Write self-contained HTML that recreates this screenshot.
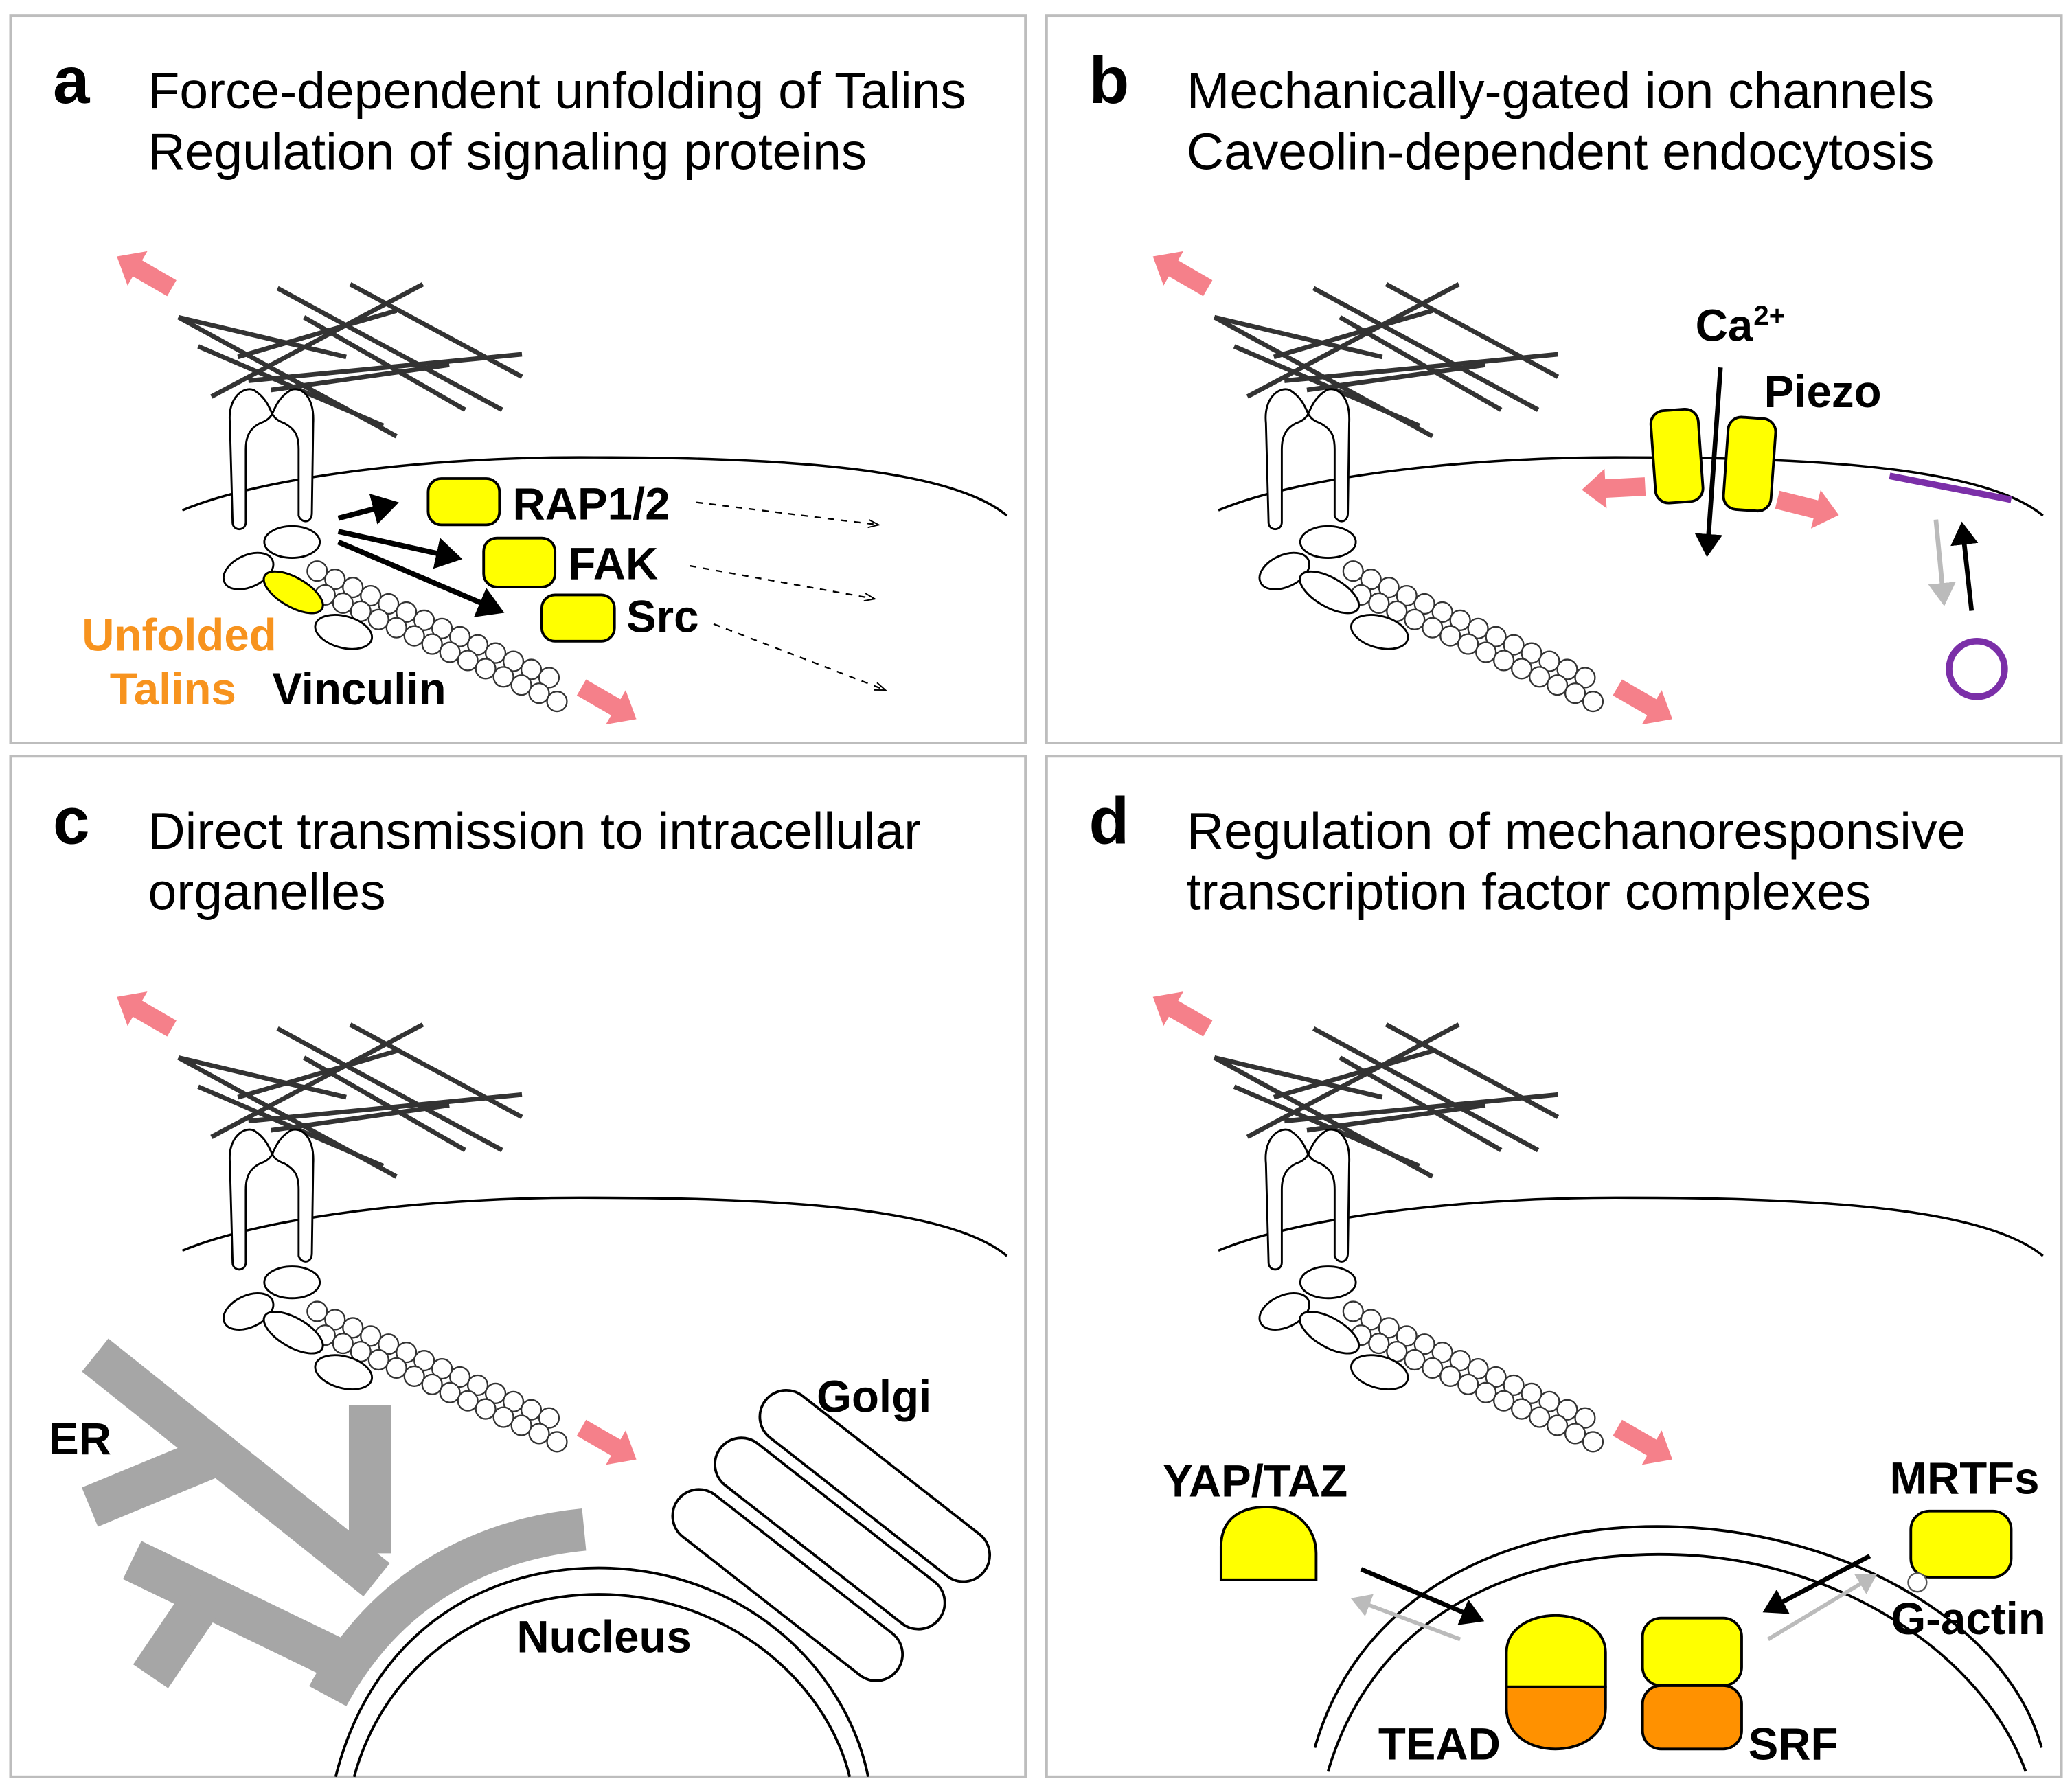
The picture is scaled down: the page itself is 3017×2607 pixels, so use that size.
<!DOCTYPE html>
<html><head><meta charset="utf-8"><style>
html,body{margin:0;padding:0;background:#fff}
svg{display:block}
text{font-family:"Liberation Sans",Arial,sans-serif}
.t{font-size:39px;fill:#000}
.L{font-size:50px;font-weight:bold}
.b{font-size:34px;font-weight:bold}
</style></head><body>
<svg width="3017" height="2607" viewBox="0 0 1568 1354" preserveAspectRatio="none" xmlns="http://www.w3.org/2000/svg">
<defs>
<marker id="ah" markerWidth="6" markerHeight="6" refX="4" refY="3" orient="auto" markerUnits="strokeWidth"><path d="M0,0 L5,3 L0,6 z" fill="#000"/></marker>
<marker id="ahg" markerWidth="6" markerHeight="6" refX="4" refY="3" orient="auto" markerUnits="strokeWidth"><path d="M0,0 L5,3 L0,6 z" fill="#bbb"/></marker>
<marker id="ahs" markerWidth="10" markerHeight="8" refX="8" refY="4" orient="auto" markerUnits="userSpaceOnUse"><path d="M0,1 L8,4 L0,7" fill="none" stroke="#000" stroke-width="1"/></marker>
<g id="pk"><path d="M0,-7 L30,-7 L30,-15 L48,0 L30,15 L30,7 L0,7 z" fill="#f5808a"/></g>
<g id="cell">
<use href="#pk" transform="translate(130,218) rotate(-150)"/>
<use href="#pk" transform="translate(440,520) rotate(30)"/>
<g stroke="#333" stroke-width="3.5">
<line x1="135" y1="240" x2="300" y2="330"/>
<line x1="210" y1="218" x2="380" y2="310"/>
<line x1="160" y1="300" x2="320" y2="215"/>
<line x1="188" y1="288" x2="395" y2="268"/>
<line x1="150" y1="262" x2="290" y2="322"/>
<line x1="265" y1="215" x2="395" y2="285"/>
<line x1="230" y1="240" x2="352" y2="310"/>
<line x1="205" y1="295" x2="340" y2="276"/>
<line x1="180" y1="270" x2="300" y2="235"/>
<line x1="135" y1="240" x2="262" y2="270"/>
</g>
<path d="M138,386 C200,360 330,345 450,346 C600,346 720,355 762,390" fill="none" stroke="#000" stroke-width="1.8"/>
<path d="M176,395 L174,320 C172,300 185,292 192,295 C200,300 203,306 206,313 C209,306 212,300 220,295 C228,292 238,300 237,320 L236,388 C236,396 228,396 226,390 L226,340 C226,330 224,325 215,320 C209,318 207,315 206,313 C205,315 203,318 197,320 C189,324 186,330 186,340 L186,395 C186,402 176,402 176,395 z" fill="#fff" stroke="#000" stroke-width="1.5"/>
<g fill="#fff" stroke="#333" stroke-width="1.2">
<g id="ch">
<circle cx="240" cy="432" r="7.5"/><circle cx="253.5" cy="438.2" r="7.5"/><circle cx="267" cy="444.4" r="7.5"/><circle cx="280.5" cy="450.6" r="7.5"/><circle cx="294" cy="456.8" r="7.5"/><circle cx="307.5" cy="463" r="7.5"/><circle cx="321" cy="469.2" r="7.5"/><circle cx="334.5" cy="475.4" r="7.5"/><circle cx="348" cy="481.6" r="7.5"/><circle cx="361.5" cy="487.8" r="7.5"/><circle cx="375" cy="494" r="7.5"/><circle cx="388.5" cy="500.2" r="7.5"/><circle cx="402" cy="506.4" r="7.5"/><circle cx="415.5" cy="512.6" r="7.5"/>
</g>
<use href="#ch" transform="translate(6,18)"/>
</g>
<g fill="#fff" stroke="#000" stroke-width="1.5">
<ellipse cx="221" cy="410" rx="21" ry="12"/>
<ellipse cx="188" cy="432" rx="20" ry="12" transform="rotate(-25 188 432)"/>
<ellipse cx="260" cy="478" rx="22" ry="12" transform="rotate(15 260 478)"/>
</g>
<ellipse cx="222" cy="448" rx="25" ry="11" transform="rotate(30 222 448)" fill="#fff" stroke="#000" stroke-width="1.5"/>
</g>
</defs>

<g fill="#fff" stroke="#bdbdbd" stroke-width="2">
<rect x="8" y="12" width="768" height="550"/>
<rect x="792" y="12" width="768" height="550"/>
<rect x="8" y="572" width="768" height="772"/>
<rect x="792" y="572" width="768" height="772"/>
</g>

<use href="#cell"/>
<use href="#cell" transform="translate(784,0)"/>
<use href="#cell" transform="translate(0,560)"/>
<use href="#cell" transform="translate(784,560)"/>

<!-- Panel a -->
<text x="40" y="78" class="L">a</text>
<text x="112" y="82" class="t">Force-dependent unfolding of Talins</text>
<text x="112" y="128" class="t">Regulation of signaling proteins</text>
<ellipse cx="222" cy="448" rx="25" ry="11" transform="rotate(30 222 448)" fill="#ffff00" stroke="#000" stroke-width="1.5"/>
<g fill="#ffff00" stroke="#000" stroke-width="2">
<rect x="324" y="362" width="54" height="35" rx="10"/>
<rect x="366" y="407" width="54" height="37" rx="10"/>
<rect x="410" y="450" width="55" height="35" rx="10"/>
</g>
<g stroke="#000" stroke-width="4" marker-end="url(#ah)">
<line x1="256" y1="392" x2="298" y2="381"/>
<line x1="256" y1="402" x2="346" y2="422"/>
<line x1="256" y1="410" x2="378" y2="462"/>
</g>
<g stroke="#000" stroke-width="1.2" stroke-dasharray="5,5" marker-end="url(#ahs)">
<line x1="527" y1="380" x2="665" y2="397"/>
<line x1="522" y1="428" x2="662" y2="453"/>
<line x1="540" y1="472" x2="670" y2="522"/>
</g>
<text x="388" y="393" class="b">RAP1/2</text>
<text x="430" y="438" class="b">FAK</text>
<text x="474" y="478" class="b">Src</text>
<text x="62" y="492" class="b" fill="#f7931e">Unfolded</text>
<text x="83" y="533" class="b" fill="#f7931e">Talins</text>
<text x="206" y="533" class="b">Vinculin</text>

<!-- Panel b -->
<text x="824" y="78" class="L">b</text>
<text x="898" y="82" class="t">Mechanically-gated ion channels</text>
<text x="898" y="128" class="t">Caveolin-dependent endocytosis</text>
<rect x="1251" y="310" width="36" height="70" rx="10" fill="#ffff00" stroke="#000" stroke-width="2" transform="rotate(-4 1269 345)"/>
<rect x="1306" y="316" width="36" height="70" rx="10" fill="#ffff00" stroke="#000" stroke-width="2" transform="rotate(4 1324 351)"/>
<line x1="1302" y1="278" x2="1292" y2="418" stroke="#000" stroke-width="3.5" marker-end="url(#ah)"/>
<use href="#pk" transform="translate(1245,368) rotate(177)"/>
<use href="#pk" transform="translate(1345,378) rotate(14)"/>
<text x="1283" y="258" class="b">Ca</text><text x="1327" y="246" font-size="21" font-weight="bold">2+</text>
<text x="1335" y="308" class="b">Piezo</text>
<line x1="1430" y1="360" x2="1522" y2="378" stroke="#7b2fa8" stroke-width="5"/>
<circle cx="1496" cy="506" r="21" fill="none" stroke="#7b2fa8" stroke-width="5"/>
<line x1="1492" y1="462" x2="1485" y2="398" stroke="#000" stroke-width="3.5" marker-end="url(#ah)"/>
<line x1="1465" y1="393" x2="1471" y2="455" stroke="#bbb" stroke-width="3.5" marker-end="url(#ahg)"/>

<!-- Panel c -->
<text x="40" y="638" class="L">c</text>
<text x="112" y="642" class="t">Direct transmission to intracellular</text>
<text x="112" y="688" class="t">organelles</text>
<g stroke="#a6a6a6" stroke-width="32" fill="none" stroke-linecap="butt">
<line x1="72" y1="1025" x2="285" y2="1195"/>
<line x1="280" y1="1063" x2="280" y2="1175"/>
<line x1="68" y1="1140" x2="165" y2="1100"/>
<path d="M442,1157 C360,1165 290,1205 248,1283"/>
<line x1="100" y1="1180" x2="255" y2="1255"/>
<line x1="152" y1="1212" x2="114" y2="1268"/>
</g>
<g fill="none" stroke="#000" stroke-width="2">
<path d="M254,1344 C280,1240 360,1186 453,1186 C560,1186 640,1260 657,1344"/>
<path d="M268,1344 C292,1256 370,1206 453,1206 C548,1206 625,1270 643,1344"/>
<rect x="-105" y="-20" width="210" height="40" rx="20" transform="translate(662,1124) rotate(38)"/>
<rect x="-105" y="-20" width="210" height="40" rx="20" transform="translate(628,1160) rotate(38)"/>
<rect x="-105" y="-20" width="210" height="40" rx="20" transform="translate(596,1199) rotate(38)"/>
</g>
<text x="37" y="1100" class="b">ER</text>
<text x="618" y="1068" class="b">Golgi</text>
<text x="391" y="1250" class="b">Nucleus</text>

<!-- Panel d -->
<text x="824" y="638" class="L">d</text>
<text x="898" y="642" class="t">Regulation of mechanoresponsive</text>
<text x="898" y="688" class="t">transcription factor complexes</text>
<g fill="none" stroke="#000" stroke-width="2">
<path d="M995,1322 C1030,1200 1150,1150 1270,1155 C1400,1160 1520,1230 1545,1322"/>
<path d="M1005,1340 C1040,1220 1150,1172 1270,1176 C1390,1180 1500,1250 1533,1340"/>
</g>
<path d="M924,1195 L924,1170 C924,1148 940,1140 958,1140 C980,1140 996,1155 996,1175 L996,1195 z" fill="#ffff00" stroke="#000" stroke-width="2"/>
<rect x="1446" y="1143" width="76" height="50" rx="14" fill="#ffff00" stroke="#000" stroke-width="2"/>
<circle cx="1451" cy="1197" r="7" fill="#fff" stroke="#555" stroke-width="1.2"/>
<path d="M1140,1276 L1140,1250 C1140,1232 1158,1222 1177,1222 C1196,1222 1215,1232 1215,1250 L1215,1276 z" fill="#ffff00" stroke="#000" stroke-width="2"/>
<path d="M1140,1276 L1215,1276 L1215,1292 C1215,1312 1197,1323 1177,1323 C1157,1323 1140,1312 1140,1292 z" fill="#ff9100" stroke="#000" stroke-width="2"/>
<rect x="1243" y="1224" width="75" height="51" rx="14" fill="#ffff00" stroke="#000" stroke-width="2"/>
<rect x="1243" y="1275" width="75" height="48" rx="14" fill="#ff9100" stroke="#000" stroke-width="2"/>
<line x1="1105" y1="1240" x2="1025" y2="1210" stroke="#bbb" stroke-width="3" marker-end="url(#ahg)"/>
<line x1="1338" y1="1240" x2="1418" y2="1192" stroke="#bbb" stroke-width="3" marker-end="url(#ahg)"/>
<line x1="1030" y1="1187" x2="1120" y2="1225" stroke="#000" stroke-width="3.5" marker-end="url(#ah)"/>
<line x1="1415" y1="1177" x2="1337" y2="1218" stroke="#000" stroke-width="3.5" marker-end="url(#ah)"/>
<text x="880" y="1132" class="b">YAP/TAZ</text>
<text x="1430" y="1130" class="b">MRTFs</text>
<text x="1431" y="1236" class="b">G-actin</text>
<text x="1043" y="1331" class="b">TEAD</text>
<text x="1323" y="1331" class="b">SRF</text>
</svg>
</body></html>
